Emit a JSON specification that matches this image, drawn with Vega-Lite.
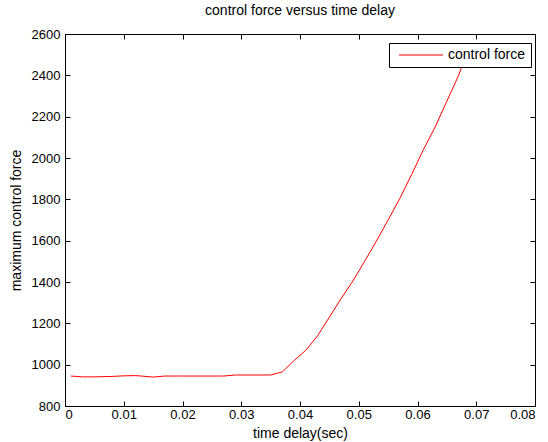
{
  "$schema": "https://vega.github.io/schema/vega-lite/v6.json",
  "width": 470,
  "height": 372,
  "autosize": {"type": "none"},
  "padding": {"left": 65, "top": 34, "right": 13, "bottom": 36},
  "background": "white",
  "title": {"text": "control force versus time delay", "fontSize": 14, "font": "Liberation Sans", "fontWeight": "normal", "color": "black", "offset": 10},
  "config": {
    "view": {"stroke": "black", "strokeWidth": 1},
    "axis": {"grid": false, "domainColor": "black", "tickColor": "black", "labelColor": "black", "titleColor": "black", "labelFont": "Liberation Sans", "titleFont": "Liberation Sans", "labelFontSize": 13, "titleFontSize": 14, "titleFontWeight": "normal", "tickSize": -5, "domainWidth": 1, "tickWidth": 1, "labelOverlap": false},
    "legend": {"labelFont": "Liberation Sans"}
  },
  "data": {"values": [
    {"t": 0.001, "f": 945, "s": "control force"},
    {"t": 0.003, "f": 941, "s": "control force"},
    {"t": 0.005, "f": 941, "s": "control force"},
    {"t": 0.008, "f": 943, "s": "control force"},
    {"t": 0.010, "f": 946, "s": "control force"},
    {"t": 0.012, "f": 947, "s": "control force"},
    {"t": 0.013, "f": 945, "s": "control force"},
    {"t": 0.015, "f": 940, "s": "control force"},
    {"t": 0.017, "f": 945, "s": "control force"},
    {"t": 0.020, "f": 945, "s": "control force"},
    {"t": 0.025, "f": 945, "s": "control force"},
    {"t": 0.027, "f": 945, "s": "control force"},
    {"t": 0.029, "f": 950, "s": "control force"},
    {"t": 0.032, "f": 950, "s": "control force"},
    {"t": 0.035, "f": 950, "s": "control force"},
    {"t": 0.037, "f": 965, "s": "control force"},
    {"t": 0.039, "f": 1020, "s": "control force"},
    {"t": 0.041, "f": 1070, "s": "control force"},
    {"t": 0.043, "f": 1140, "s": "control force"},
    {"t": 0.045, "f": 1230, "s": "control force"},
    {"t": 0.047, "f": 1320, "s": "control force"},
    {"t": 0.049, "f": 1405, "s": "control force"},
    {"t": 0.051, "f": 1500, "s": "control force"},
    {"t": 0.053, "f": 1598, "s": "control force"},
    {"t": 0.055, "f": 1700, "s": "control force"},
    {"t": 0.057, "f": 1805, "s": "control force"},
    {"t": 0.059, "f": 1920, "s": "control force"},
    {"t": 0.061, "f": 2040, "s": "control force"},
    {"t": 0.063, "f": 2150, "s": "control force"},
    {"t": 0.065, "f": 2275, "s": "control force"},
    {"t": 0.067, "f": 2400, "s": "control force"},
    {"t": 0.0685, "f": 2520, "s": "control force"}
  ]},
  "resolve": {"axis": {"x": "independent", "y": "independent"}},
  "layer": [
    {
      "mark": {"type": "line", "strokeWidth": 1, "clip": true},
      "encoding": {
        "x": {"field": "t", "type": "quantitative", "scale": {"domain": [0, 0.08], "nice": false, "zero": false},
              "axis": {"values": [0, 0.01, 0.02, 0.03, 0.04, 0.05, 0.06, 0.07, 0.08], "format": "~g", "title": "time delay(sec)", "labelPadding": 7, "titlePadding": 5}},
        "y": {"field": "f", "type": "quantitative", "scale": {"domain": [800, 2600], "nice": false, "zero": false},
              "axis": {"values": [800, 1000, 1200, 1400, 1600, 1800, 2000, 2200, 2400, 2600], "format": "d", "title": "maximum control force", "labelPadding": 10, "titlePadding": 8}},
        "color": {"field": "s", "type": "nominal", "scale": {"range": ["#ff0000"]},
                  "legend": {"title": null, "orient": "none", "legendX": 324, "legendY": 9, "zindex": 2, "strokeColor": "black", "fillColor": "white", "padding": 5, "symbolType": "M-0.286,-0.07H6V0.07H-0.286Z", "symbolSize": 196, "symbolStrokeWidth": 0, "symbolStrokeColor": "#ff0000", "symbolFillColor": "#ff0000", "labelFontSize": 14, "labelColor": "black", "labelOffset": 40}}
      }
    },
    {
      "mark": {"type": "line", "strokeOpacity": 0},
      "encoding": {
        "x": {"field": "t", "type": "quantitative", "axis": {"orient": "top", "values": [0, 0.01, 0.02, 0.03, 0.04, 0.05, 0.06, 0.07, 0.08], "labels": false, "title": null}},
        "y": {"field": "f", "type": "quantitative", "axis": {"orient": "right", "values": [800, 1000, 1200, 1400, 1600, 1800, 2000, 2200, 2400, 2600], "labels": false, "title": null}}
      }
    }
  ]
}
